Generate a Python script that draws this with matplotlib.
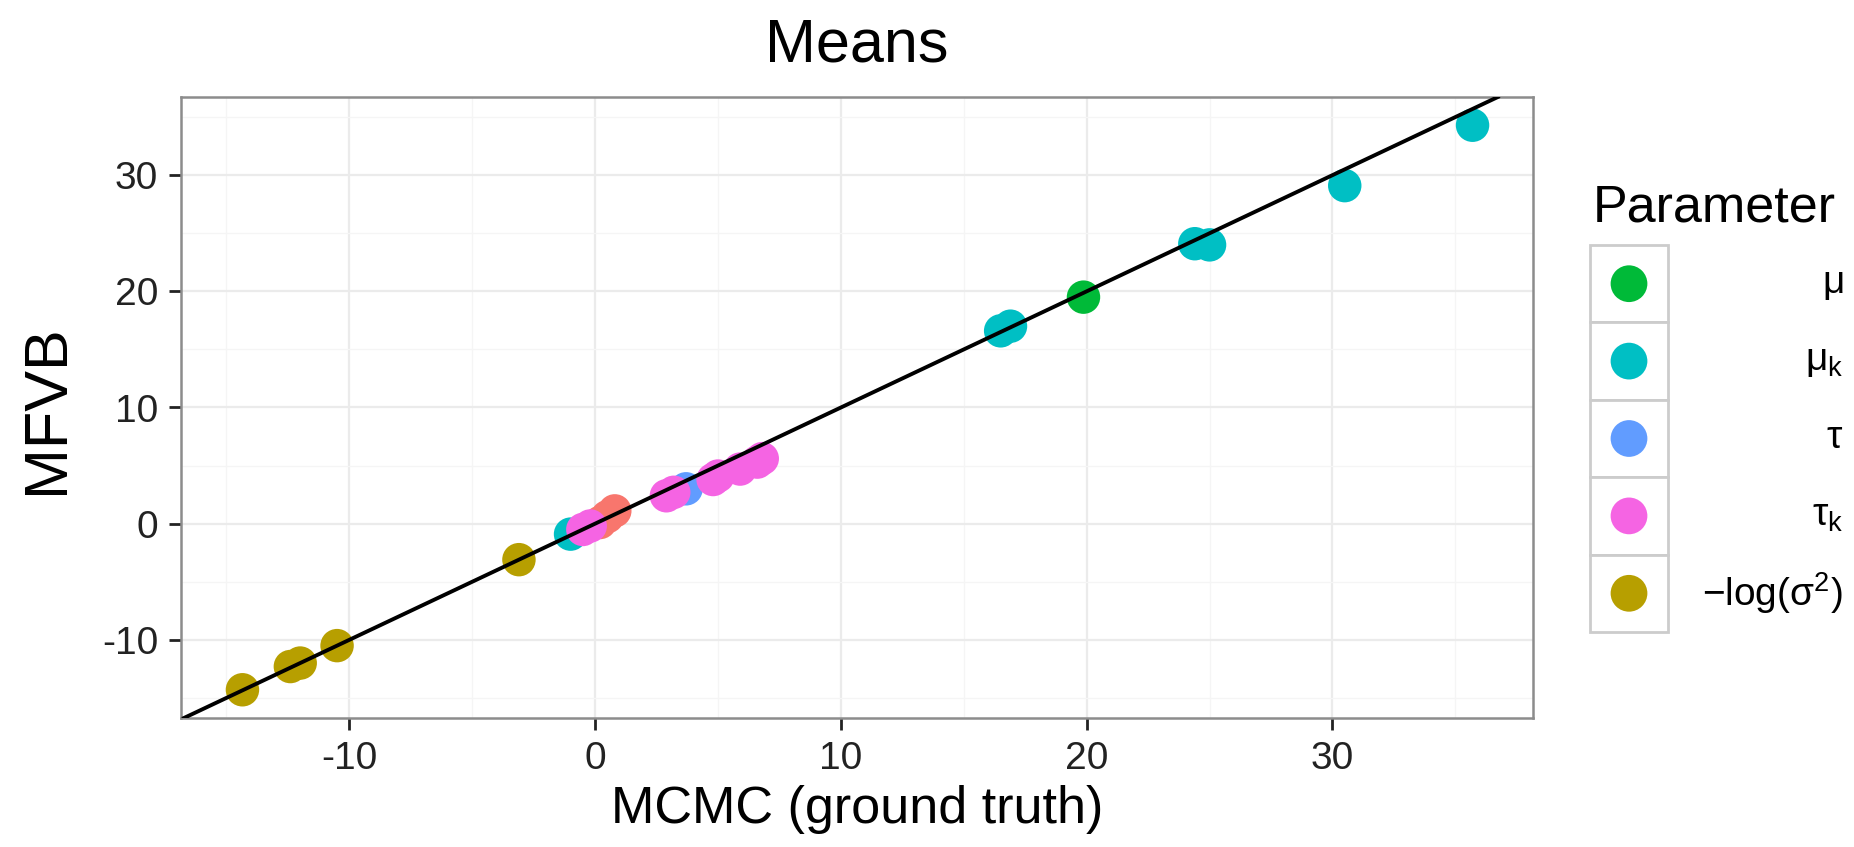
import matplotlib
matplotlib.use("Agg")
import matplotlib.pyplot as plt
from matplotlib.patches import Rectangle

plt.rcParams["font.family"] = ["Liberation Sans", "DejaVu Sans"]
plt.rcParams["mathtext.fontset"] = "custom"
plt.rcParams["mathtext.rm"] = "Liberation Sans"
plt.rcParams["mathtext.it"] = "Liberation Sans"
plt.rcParams["axes.unicode_minus"] = False

W, H = 1854, 847

# --- data: posterior means, MCMC (x) vs MFVB (y), per parameter group
mu_x = [19.87]
mu_y = [19.5]
mu_k_x = [-1.0, 16.5, 16.9, 24.4, 25.0, 30.5, 35.7]
mu_k_y = [-0.9, 16.6, 17.0, 24.1, 24.0, 29.1, 34.3]
tau_x = [3.7]
tau_y = [3.0]
tau_k_x = [-0.5, -0.2, 2.9, 3.2, 4.8, 5.0, 5.9, 6.6, 6.8]
tau_k_y = [-0.5, -0.2, 2.4, 2.7, 3.8, 4.1, 4.7, 5.3, 5.6]
logsig_x = [-14.35, -12.4, -12.0, -10.5, -3.1]
logsig_y = [-14.3, -12.3, -12.0, -10.5, -3.1]
other_x = [0.2, 0.5, 0.8]
other_y = [0.1, 0.6, 1.1]

x_ticks = [-10, 0, 10, 20, 30]
y_ticks = [-10, 0, 10, 20, 30]

C_OTHER = "#F8766D"
C_LOGSIG = "#B79F00"
C_MU = "#00BA38"
C_MUK = "#00BFC4"
C_TAU = "#619CFF"
C_TAUK = "#F564E3"

legend_labels = [r"$\mathregular{\mu}$", r"$\mathregular{\mu_k}$",
                 r"$\mathregular{\tau}$", r"$\mathregular{\tau_k}$",
                 r"$\mathregular{-log(\sigma^2)}$"]
legend_colors = [C_MU, C_MUK, C_TAU, C_TAUK, C_LOGSIG]

fig = plt.figure(figsize=(W / 100, H / 100), dpi=100)
ax = fig.add_axes([181 / W, 1 - 718 / H, (1533 - 181) / W, (718 - 97) / H])

ms = 580
groups = [(mu_k_x, mu_k_y, C_MUK), (other_x, other_y, C_OTHER),
          (tau_x, tau_y, C_TAU), (tau_k_x, tau_k_y, C_TAUK),
          (mu_x, mu_y, C_MU), (logsig_x, logsig_y, C_LOGSIG)]
for gx, gy, col in groups:
    ax.scatter(gx, gy, s=ms, color=col, edgecolors="none", zorder=3)

ax.axline((0, 0), slope=1, color="black", lw=2.8, zorder=4)

ax.set_xlim(-16.85, 38.16)
ax.set_ylim(-16.73, 36.73)
ax.set_xticks(x_ticks)
ax.set_yticks(y_ticks)
ax.set_xticks([-15, -5, 5, 15, 25, 35], minor=True)
ax.set_yticks([-15, -5, 5, 15, 25, 35], minor=True)
ax.grid(which="major", color="#EBEBEB", lw=1.6, zorder=0)
ax.grid(which="minor", color="#F5F5F5", lw=0.9, zorder=0)
ax.set_axisbelow(True)
ax.tick_params(which="major", length=8.5, width=2, color="#222222",
               labelsize=28, labelcolor="#222222", pad=8)
ax.tick_params(which="minor", length=0)
for sp in ax.spines.values():
    sp.set_color("#8C8C8C")
    sp.set_linewidth(1.8)

ax.set_xlabel("MCMC (ground truth)", fontsize=37.5, labelpad=6)
fig.text(48 / W, 1 - 409 / H, "MFVB", rotation=90, fontsize=44,
         ha="center", va="center")
fig.text(857 / W, 1 - 62 / H, "Means", fontsize=44, ha="center",
         va="baseline")

# --- legend drawn in pixel coordinates
lg = fig.add_axes([0, 0, 1, 1], facecolor="none")
lg.set_xlim(0, W)
lg.set_ylim(H, 0)
lg.axis("off")
lg.text(1593, 222, "Parameter", fontsize=37.5, ha="left", va="baseline")
key_w, key_h, key_x, key_top = 78, 77.4, 1590, 245
for i, (lab, col) in enumerate(zip(legend_labels, legend_colors)):
    y0 = key_top + i * key_h
    lg.add_patch(Rectangle((key_x, y0), key_w, key_h, facecolor="white",
                           edgecolor="#CCCCCC", lw=2))
    lg.scatter([key_x + key_w / 2], [y0 + key_h / 2], s=700, color=col,
               edgecolors="none", zorder=3)
    lg.text(1843, y0 + key_h / 2, lab, fontsize=28, ha="right", va="center")

fig.savefig("out.png", dpi=100)
